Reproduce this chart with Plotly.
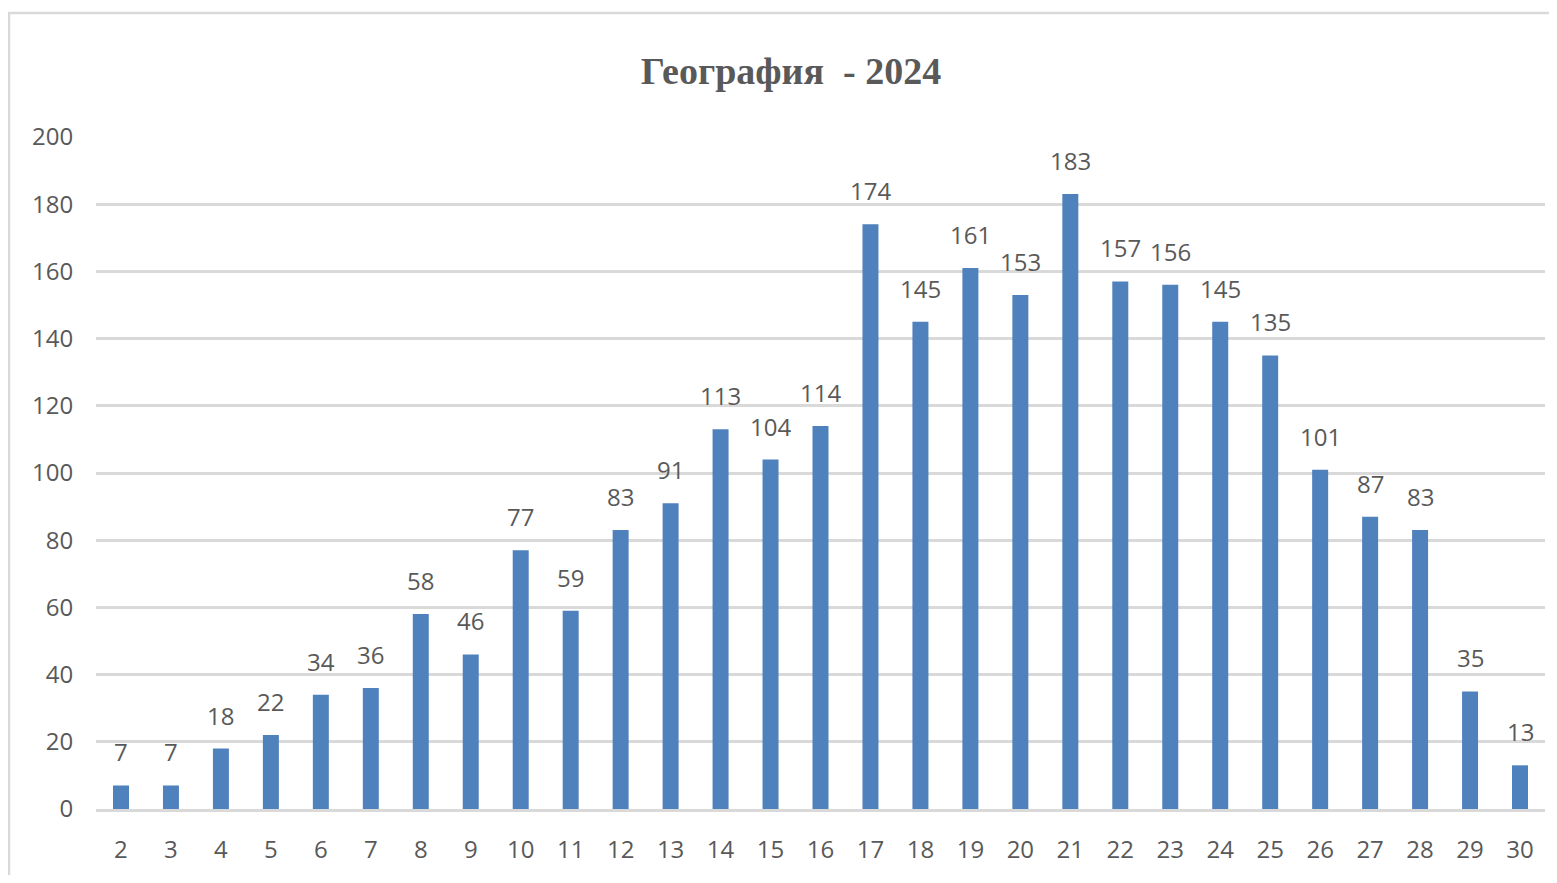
import plotly.graph_objects as go

categories = [str(i) for i in range(2, 31)]
values = [7, 7, 18, 22, 34, 36, 58, 46, 77, 59, 83, 91, 113, 104, 114,
          174, 145, 161, 153, 183, 157, 156, 145, 135, 101, 87, 83, 35, 13]
y_ticks = list(range(0, 201, 20))
title_text = "География  - 2024"

TEXT = "#595959"
GRID = "#D9D9D9"
BAR = "#4F81BD"
FONT = "Open Sans, Liberation Sans, sans-serif"

fig = go.Figure()
fig.add_trace(go.Bar(
    x=categories, y=values,
    marker=dict(color=BAR, line=dict(width=0)),
    hoverinfo="x+y",
))

for i, v in enumerate(values):
    fig.add_annotation(
        x=i, y=v, text=str(v), showarrow=False,
        yanchor="bottom", yshift=15,
        font=dict(family=FONT, size=24, color=TEXT),
    )

# page has an 8px body margin; the figure is sized so the page does not scroll
W, H = 1541, 867
L, R, T, B = 88, 4, 129, 66
pw = W - L - R
ph = H - T - B

def px_to_paper_x(px):
    return (px - L) / pw

def px_to_paper_y(py):
    return (H - B - py) / ph

fig.add_shape(
    type="rect", xref="paper", yref="paper",
    x0=px_to_paper_x(1), x1=px_to_paper_x(1600),
    y0=px_to_paper_y(950), y1=px_to_paper_y(5),
    line=dict(color=GRID, width=2.5), fillcolor="rgba(0,0,0,0)",
    layer="below",
)

fig.update_layout(
    width=W, height=H,
    margin=dict(l=L, r=R, t=T, b=B, pad=0),
    paper_bgcolor="white", plot_bgcolor="white",
    bargap=0.68,
    showlegend=False,
    title=dict(
        text="<b>" + title_text + "</b>",
        x=783 / W, xref="container", xanchor="center",
        y=1 - 63 / H, yref="container", yanchor="middle",
        font=dict(family="Liberation Serif, Times New Roman, serif", size=38, color=TEXT),
    ),
    xaxis=dict(
        type="category", categoryorder="array", categoryarray=categories,
        range=[-0.5, len(categories) - 0.5],
        showgrid=False, showline=True, linecolor=GRID, linewidth=2.5,
        ticks="outside", ticklen=17, tickcolor="rgba(0,0,0,0)",
        tickfont=dict(family=FONT, size=24, color=TEXT),
        zeroline=False,
    ),
    yaxis=dict(
        range=[0, 200], tickvals=y_ticks,
        showgrid=True, gridcolor=GRID, gridwidth=2.5,
        showline=False, zeroline=False,
        ticks="outside", ticklen=17, tickcolor="rgba(0,0,0,0)",
        tickfont=dict(family=FONT, size=24, color=TEXT),
    ),
)

fig.write_html("out.html")
